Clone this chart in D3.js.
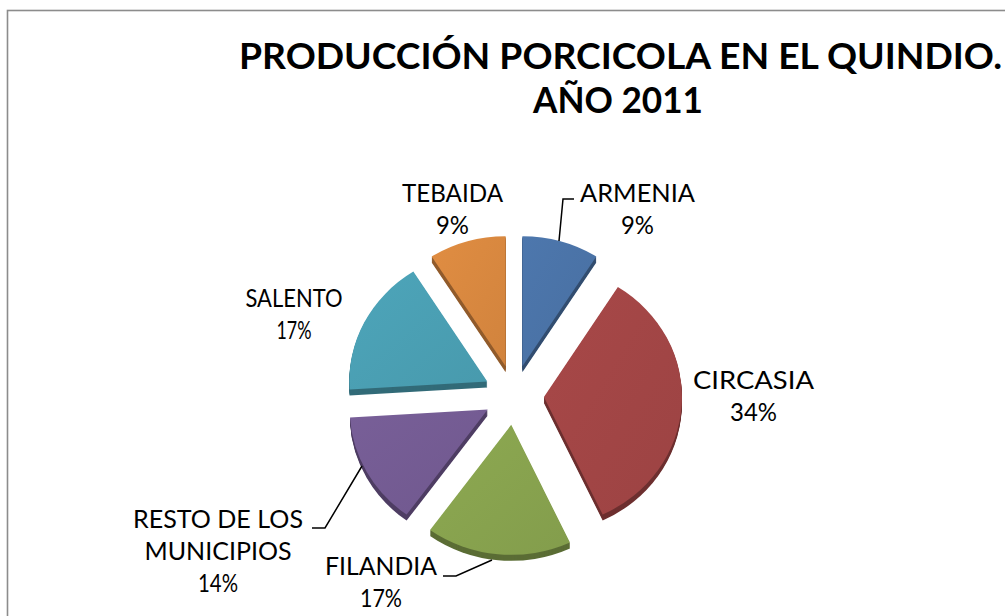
<!DOCTYPE html>
<html>
<head>
<meta charset="utf-8">
<script src="https://cdn.jsdelivr.net/npm/d3@7"></script>
<style>
  body { margin: 0; background: #fff; }
  text { font-family: "Century Gothic", "URW Gothic", Lato, "DejaVu Sans", sans-serif; fill: #000; }
</style>
</head>
<body>
<svg id="chart" width="1005" height="616"></svg>
<script>
// Pig production in Quindío by municipality, 2011 (percent share)
const categories = ["ARMENIA", "CIRCASIA", "FILANDIA", "RESTO DE LOS MUNICIPIOS", "SALENTO", "TEBAIDA"];
const values = [9, 34, 17, 14, 17, 9];
const labelLines = [["ARMENIA"], ["CIRCASIA"], ["FILANDIA"], ["RESTO DE LOS", "MUNICIPIOS"], ["SALENTO"], ["TEBAIDA"]];
const colors = ["#4a72a6", "#a14545", "#87a24e", "#735b92", "#4a9eb2", "#d7873f"];
const titleLines = ["PRODUCCIÓN PORCICOLA EN EL QUINDIO.", "AÑO 2011"];

const svg = d3.select("#chart");

// chart frame
svg.append("rect")
  .attr("x", 7.5).attr("y", 10.5)
  .attr("width", 1100).attr("height", 700)
  .attr("fill", "none").attr("stroke", "#8c8c8c").attr("stroke-width", 1.6);

// title
const titleSpecs = [
  { cx: 620.5, y: 69, w: 763 },
  { cx: 618, y: 113, w: 170 }
];
titleLines.forEach((t, i) => {
  svg.append("text")
    .attr("x", titleSpecs[i].cx).attr("y", titleSpecs[i].y)
    .attr("text-anchor", "middle")
    .attr("font-size", 36).attr("font-weight", "bold")
    .attr("textLength", titleSpecs[i].w).attr("lengthAdjust", "spacingAndGlyphs")
    .text(t);
});

// pie geometry
const cx = 514, cy = 395;
const rx = 138, ry = 130;
const explode = 30;
const depth = 6;
const sy = ry / rx;

const pie = d3.pie().sort(null).value(d => d)(values);
const arc = d3.arc().innerRadius(0).outerRadius(rx);

const defs = svg.append("defs");
colors.forEach((c, i) => {
  const g = defs.append("linearGradient")
    .attr("id", "face" + i)
    .attr("x1", "0%").attr("y1", "0%").attr("x2", "100%").attr("y2", "100%");
  g.append("stop").attr("offset", "0%").attr("stop-color", d3.color(c).brighter(0.12));
  g.append("stop").attr("offset", "100%").attr("stop-color", d3.color(c).darker(0.08));
});

const slices = svg.append("g").selectAll("g.slice")
  .data(pie)
  .join("g")
  .attr("class", "slice")
  .attr("transform", d => {
    const mid = (d.startAngle + d.endAngle) / 2;
    return `translate(${cx + explode * Math.sin(mid)},${cy - explode * Math.cos(mid)})`;
  });

// extruded side, then the top face
slices.each(function (d, i) {
  const g = d3.select(this);
  for (let k = depth; k >= 1; k--) {
    g.append("path")
      .attr("d", arc(d))
      .attr("transform", `translate(0,${k}) scale(1,${sy})`)
      .attr("fill", d3.color(colors[i]).darker(1.1));
  }
  g.append("path")
    .attr("d", arc(d))
    .attr("transform", `scale(1,${sy})`)
    .attr("fill", `url(#face${i})`);
});

// data labels
const labelSpecs = [
  { cx: 637.5, y: 202, w: [115], pw: 33 },
  { cx: 753.5, y: 389, w: [121], pw: 47 },
  { cx: 381, y: 575, w: [112], pw: 42 },
  { cx: 218, y: 528, w: [170, 147], pw: 40 },
  { cx: 294, y: 307, w: [97], pw: 35 },
  { cx: 452.5, y: 202, w: [101], pw: 33 }
];
const lineGap = 32;
categories.forEach((cat, i) => {
  const s = labelSpecs[i];
  const lines = labelLines[i].concat([values[i] + "%"]);
  lines.forEach((t, j) => {
    const isPct = j === lines.length - 1;
    svg.append("text")
      .attr("x", s.cx).attr("y", s.y + j * lineGap)
      .attr("text-anchor", "middle")
      .attr("font-size", 25)
      .attr("textLength", isPct ? s.pw : s.w[j])
      .attr("lengthAdjust", "spacingAndGlyphs")
      .text(t);
  });
});

// leader lines
const leaders = [
  [[574, 199], [563, 199], [559, 241]],
  [[312, 528], [325, 528], [362, 466]],
  [[443, 576], [456, 576], [492, 560]]
];
const line = d3.line();
leaders.forEach(p => {
  svg.append("path")
    .attr("d", line(p))
    .attr("fill", "none").attr("stroke", "#000").attr("stroke-width", 1.5);
});
</script>
</body>
</html>
